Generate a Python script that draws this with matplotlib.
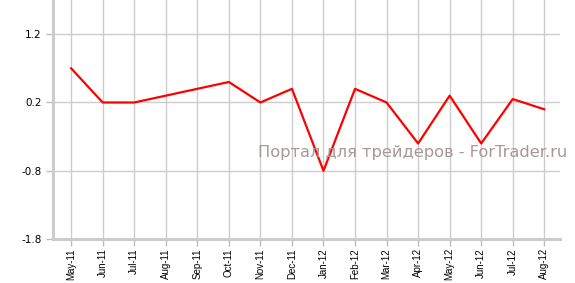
import numpy as np
import matplotlib.pyplot as plt

months = ['May-11', 'Jun-11', 'Jul-11', 'Aug-11', 'Sep-11', 'Oct-11', 'Nov-11', 'Dec-11',
          'Jan-12', 'Feb-12', 'Mar-12', 'Apr-12', 'May-12', 'Jun-12', 'Jul-12', 'Aug-12']
values = [0.7, 0.2, 0.2, 0.3, 0.4, 0.5, 0.2, 0.4,
          -0.8, 0.4, 0.2, -0.4, 0.3, -0.4, 0.25, 0.1]
y_ticks = [-1.8, -0.8, 0.2, 1.2]

def main():
    fig = plt.figure(figsize=(5.75, 2.83), dpi=100)
    ax = fig.add_axes([0.093, 0.155, 0.881, 0.845])

    x = np.arange(len(months))
    ax.plot(x, values, color='#ff0000', linewidth=1.6, zorder=3)

    ax.set_xlim(-0.56, len(months) - 0.5)
    ax.set_ylim(-1.8, 1.7)
    ax.set_xticks(x)
    ax.set_xticklabels(months, rotation=90, fontsize=7, family='Liberation Sans')
    ax.set_yticks(y_ticks)
    ax.set_yticklabels([f'{v:.1f}' for v in y_ticks], fontsize=7.5)

    ax.grid(True, color='#cccccc', linewidth=1.0)
    ax.set_axisbelow(True)
    ax.tick_params(axis='both', colors='#bbbbbb', length=5, width=1, labelcolor='black')
    ax.tick_params(axis='x', pad=1.5)

    for side in ['top', 'right']:
        ax.spines[side].set_visible(False)
    for side in ['left', 'bottom']:
        ax.spines[side].set_color('#cccccc')
        ax.spines[side].set_linewidth(2.2)

    fig.text(0.449, 0.46, 'Портал для трейдеров - ForTrader.ru', fontsize=11.7,
             color='#a89898', ha='left', va='center')

    fig.savefig('out.png', dpi=100)

if __name__ == '__main__':
    main()
